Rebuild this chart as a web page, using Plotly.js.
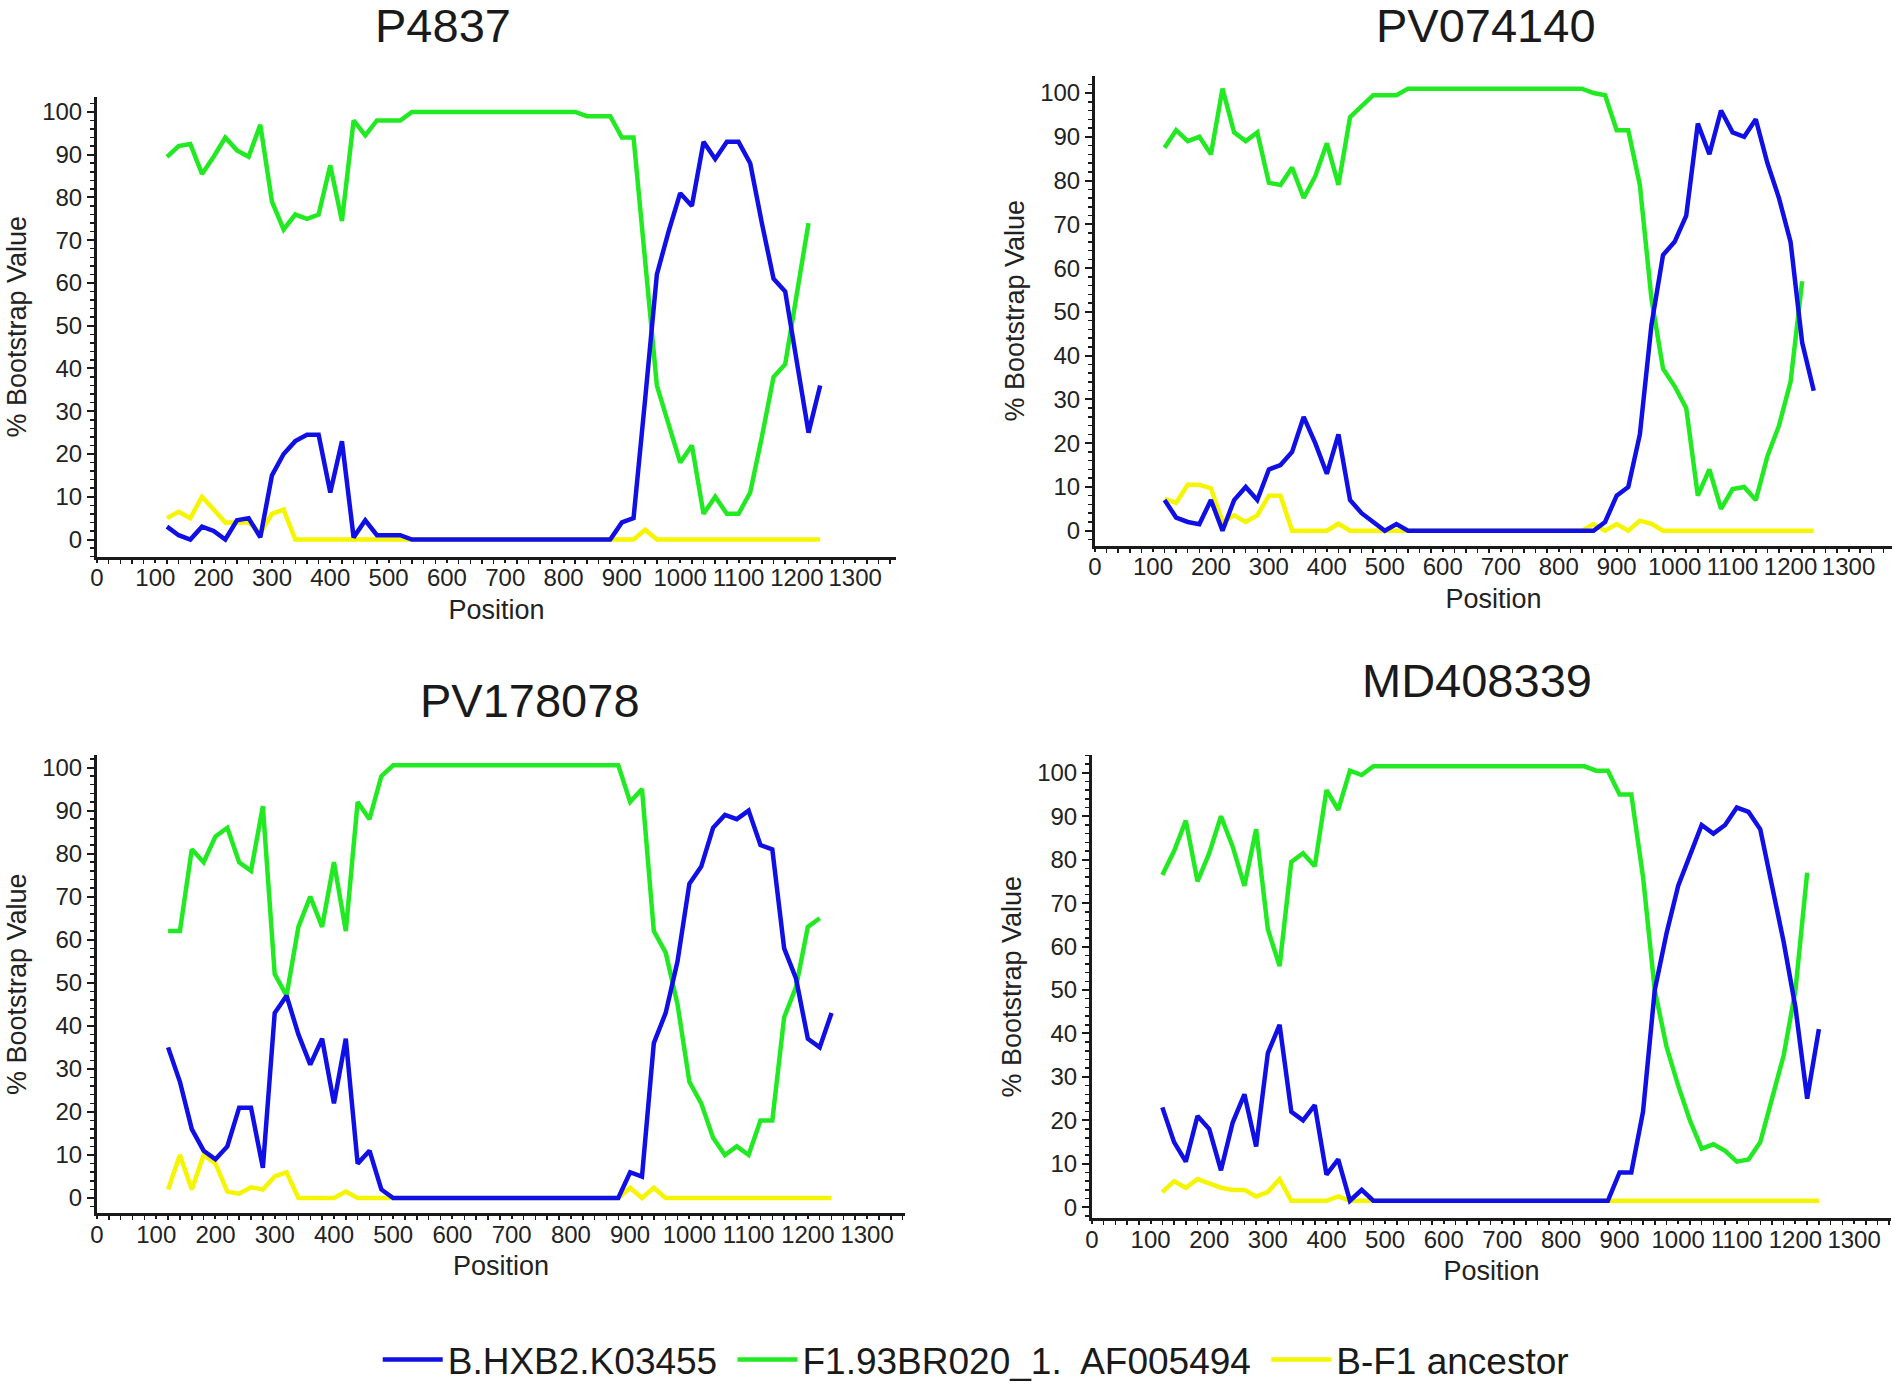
<!DOCTYPE html>
<html>
<head>
<meta charset="utf-8">
<script src="https://cdn.plot.ly/plotly-3.0.1.min.js"></script>
<style>
  html, body { margin: 0; padding: 0; background: #ffffff; }
  #chart { width: 1902px; height: 1391px; }
</style>
</head>
<body>
<div id="chart"></div>
<script>
const CHART = document.getElementById('chart');

const BLUE = '#1010e6';
const GREEN = '#22ea22';
const YELLOW = '#f5f500';
const INK = '#1a1a1a';

// window midpoints along the alignment
const positions = [120, 140, 160, 180, 200, 220, 240, 260, 280, 300, 320, 340, 360, 380,
    400, 420, 440, 460, 480, 500, 520, 540, 560, 580, 600, 620, 640, 660, 680, 700, 720,
    740, 760, 780, 800, 820, 840, 860, 880, 900, 920, 940, 960, 980, 1000, 1020, 1040,
    1060, 1080, 1100, 1120, 1140, 1160, 1180, 1200, 1220, 1240];

// trailing no-break space widens the gap between legend entries
const seriesNames = ['B.HXB2.K03455\u00a0', 'F1.93BR020_1.  AF005494\u00a0', 'B-F1 ancestor'];
const panelTitles = ['P4837', 'PV074140', 'PV178078', 'MD408339'];

// P4837
const p4837_b = [3, 1, 0, 3, 2, 0, 4.5, 5, 0.5, 15, 20, 23, 24.5, 24.5, 11, 23, 0.5, 4.5, 1, 1, 1, 0,
    0, 0, 0, 0, 0, 0, 0, 0, 0, 0, 0, 0, 0, 0, 0, 0, 0,
    4, 5, 33, 62, 72, 81, 78, 93, 89, 93, 93, 88, 74, 61, 58, 42, 25, 36];
const p4837_f1 = [89.5, 92, 92.5, 85.5, 89.5, 94, 91, 89.5, 97, 79, 72.5, 76, 75, 76, 87.5, 74.5, 98, 94.5, 98, 98, 98, 100,
    100, 100, 100, 100, 100, 100, 100, 100, 100, 100, 100, 100, 100, 100, 99, 99, 99,
    94, 94, 65, 36, 27, 18, 22, 6, 10, 6, 6, 11, 24, 38, 41, 57, 74, null];
const p4837_anc = [5, 6.5, 5, 10, 7, 4, 4, 4, 1.5, 6, 7, 0, 0, 0, 0, 0, 0, 0, 0, 0, 0, 0,
    0, 0, 0, 0, 0, 0, 0, 0, 0, 0, 0, 0, 0, 0, 0, 0, 0,
    0, 0, 2.3, 0, 0, 0, 0, 0, 0, 0, 0, 0, 0, 0, 0, 0, 0, 0];

// PV074140
const pv074140_b = [7, 3, 2, 1.5, 7, 0, 7, 10, 7, 14, 15, 18, 26, 20, 13, 22, 7, 4, 2, 0, 1.5, 0,
    0, 0, 0, 0, 0, 0, 0, 0, 0, 0, 0, 0, 0, 0, 0, 0, 2,
    8, 10, 22, 47, 63, 66, 72, 93, 86, 96, 91, 90, 94, 84, 76, 66, 43, 32];
const pv074140_f1 = [87.5, 91.5, 89, 90, 86, 101, 91, 89, 91, 79.5, 79, 83, 76, 81, 88.5, 79, 94.5, 97, 99.5, 99.5, 99.5, 101,
    101, 101, 101, 101, 101, 101, 101, 101, 101, 101, 101, 101, 101, 101, 101, 100, 99.5,
    91.5, 91.5, 79, 53, 37, 33, 28, 8, 14, 5, 9.5, 10, 7, 17, 24, 34, 57, null];
const pv074140_anc = [7.3, 6.4, 10.5, 10.5, 9.7, 2, 3.5, 2, 3.5, 8, 8, 0, 0, 0, 0, 1.6, 0, 0, 0, 0, 0, 0,
    0, 0, 0, 0, 0, 0, 0, 0, 0, 0, 0, 0, 0, 0, 0, 1.5, 0,
    1.5, 0, 2.3, 1.6, 0, 0, 0, 0, 0, 0, 0, 0, 0, 0, 0, 0, 0, 0];

// PV178078
const pv178078_b = [35, 27, 16, 11, 9, 12, 21, 21, 7, 43, 47, 38, 31, 37, 22, 37, 8, 11, 2, 0, 0, 0,
    0, 0, 0, 0, 0, 0, 0, 0, 0, 0, 0, 0, 0, 0, 0, 0, 0,
    6, 5, 36, 43, 55, 73, 77, 86, 89, 88, 90, 82, 81, 58, 51, 37, 35, 43];
const pv178078_f1 = [62, 62, 81, 78, 84, 86, 78, 76, 91, 52, 47, 63, 70, 63, 78, 62, 92, 88, 98, 100.5, 100.5, 100.5,
    100.5, 100.5, 100.5, 100.5, 100.5, 100.5, 100.5, 100.5, 100.5, 100.5, 100.5, 100.5, 100.5, 100.5, 100.5, 100.5, 100.5,
    92, 95, 62, 57, 45, 27, 22, 14, 10, 12, 10, 18, 18, 42, 49, 63, 65, null];
const pv178078_anc = [2, 10, 2, 10, 8, 1.5, 1, 2.5, 2, 5, 6, 0, 0, 0, 0, 1.5, 0, 0, 0, 0, 0, 0,
    0, 0, 0, 0, 0, 0, 0, 0, 0, 0, 0, 0, 0, 0, 0, 0, 0,
    2.4, 0, 2.4, 0, 0, 0, 0, 0, 0, 0, 0, 0, 0, 0, 0, 0, 0, 0];

// MD408339
const md408339_b = [23, 15, 10.5, 21, 18, 8.5, 19.5, 26, 14, 35.5, 42, 22, 20, 23.5, 7.5, 11, 1.5, 4, 1.5, 1.5, 1.5, 1.5,
    1.5, 1.5, 1.5, 1.5, 1.5, 1.5, 1.5, 1.5, 1.5, 1.5, 1.5, 1.5, 1.5, 1.5, 1.5, 1.5, 1.5,
    8, 8, 22, 50, 63, 74, 81, 88, 86, 88, 92, 91, 87, 73.5, 61, 46, 25, 41];
const md408339_f1 = [76.5, 82, 89, 75, 81.5, 90, 83, 74, 87, 64, 55.5, 79.5, 81.5, 78.5, 96, 91.5, 100.5, 99.5, 101.5, 101.5, 101.5, 101.5,
    101.5, 101.5, 101.5, 101.5, 101.5, 101.5, 101.5, 101.5, 101.5, 101.5, 101.5, 101.5, 101.5, 101.5, 101.5, 100.5, 100.5,
    95, 95, 76, 50, 37, 28, 20, 13.5, 14.5, 13, 10.5, 11, 15, 25, 35, 50, 77, null];
const md408339_anc = [3.5, 6, 4.5, 6.5, 5.5, 4.5, 4, 4, 2.5, 3.5, 6.5, 1.5, 1.5, 1.5, 1.5, 2.5, 1.5, 1.5, 1.5, 1.5, 1.5, 1.5,
    1.5, 1.5, 1.5, 1.5, 1.5, 1.5, 1.5, 1.5, 1.5, 1.5, 1.5, 1.5, 1.5, 1.5, 1.5, 1.5, 1.5,
    1.5, 1.5, 1.5, 1.5, 1.5, 1.5, 1.5, 1.5, 1.5, 1.5, 1.5, 1.5, 1.5, 1.5, 1.5, 1.5, 1.5, 1.5];

const panelData = [
    [p4837_b, p4837_f1, p4837_anc],
    [pv074140_b, pv074140_f1, pv074140_anc],
    [pv178078_b, pv178078_f1, pv178078_anc],
    [md408339_b, md408339_f1, md408339_anc]
];

// page-pixel boxes of each plot area (left, right, top, bottom) and axis ranges
const W = 1902, H = 1391;
const boxes = [
    {l: 97, r: 896, t: 97, b: 557, xmax: 1370, ymin: -4.0, ymax: 103.5, title: [443, 26]},
    {l: 1095, r: 1892, t: 76, b: 546, xmax: 1375, ymin: -3.4, ymax: 103.9, title: [1486, 26]},
    {l: 97, r: 905, t: 756, b: 1214, xmax: 1364, ymin: -3.5, ymax: 102.8, title: [530, 701]},
    {l: 1092, r: 1891, t: 756, b: 1219, xmax: 1363, ymin: -2.5, ymax: 104, title: [1477, 681]}
];

const SANS = '"Liberation Sans", Arial, sans-serif';
const TICKFONT = {family: SANS, size: 24, color: '#222222'};
const LABELFONT = {family: SANS, size: 27, color: '#222222'};

function axisBase() {
    return {
        showline: true,
        linecolor: INK,
        linewidth: 3,
        mirror: false,
        showgrid: false,
        zeroline: false,
        ticks: 'outside',
        ticklen: 7,
        tickwidth: 2,
        tickcolor: INK,
        tickfont: TICKFONT,
        tickangle: 0,
        automargin: false,
        fixedrange: true
    };
}

const traces = [];
const layout = {
    width: W,
    height: H,
    margin: {l: 0, r: 0, t: 0, b: 0},
    paper_bgcolor: '#ffffff',
    plot_bgcolor: '#ffffff',
    showlegend: true,
    legend: {
        orientation: 'h',
        traceorder: 'reversed',
        x: 0.513,
        xanchor: 'center',
        y: 1 - 1361 / H,
        yanchor: 'middle',
        font: {family: SANS, size: 37, color: '#1a1a1a'},
        itemwidth: 60,
        bgcolor: 'rgba(0,0,0,0)'
    },
    annotations: []
};

const colors = [BLUE, GREEN, YELLOW];

boxes.forEach(function (box, i) {
    const n = i + 1;
    const sfx = n === 1 ? '' : String(n);

    const xaxis = axisBase();
    xaxis.domain = [box.l / W, box.r / W];
    xaxis.range = [0, box.xmax];
    xaxis.tick0 = 0;
    xaxis.dtick = 100;
    xaxis.ticklen = 3;
    xaxis.ticklabelstandoff = -5;
    xaxis.minor = {dtick: 20, ticks: 'outside', ticklen: 4, tickwidth: 1.5, tickcolor: INK};
    xaxis.anchor = 'y' + sfx;
    xaxis.title = {text: 'Position', font: LABELFONT, standoff: 10};

    const yaxis = axisBase();
    yaxis.domain = [1 - box.b / H, 1 - box.t / H];
    yaxis.range = [box.ymin, box.ymax];
    yaxis.tick0 = 0;
    yaxis.dtick = 10;
    yaxis.minor = {dtick: 2, ticks: 'outside', ticklen: 4, tickwidth: 1.5, tickcolor: INK};
    yaxis.anchor = 'x' + sfx;
    yaxis.title = {text: '% Bootstrap Value', font: LABELFONT, standoff: 8};

    layout['xaxis' + sfx] = xaxis;
    layout['yaxis' + sfx] = yaxis;

    layout.annotations.push({
        text: panelTitles[i],
        xref: 'paper', yref: 'paper',
        x: box.title[0] / W,
        y: 1 - box.title[1] / H,
        xanchor: 'center', yanchor: 'middle',
        showarrow: false,
        font: {family: SANS, size: 47, color: '#1a1a1a'}
    });

    // ancestor first so the parental curves sit on top of it
    [2, 1, 0].forEach(function (s) {
        traces.push({
            type: 'scatter',
            mode: 'lines',
            x: positions,
            y: panelData[i][s],
            name: seriesNames[s],
            legendgroup: seriesNames[s],
            showlegend: i === 0,
            line: {color: colors[s], width: 4.5},
            xaxis: 'x' + sfx,
            yaxis: 'y' + sfx,
            hoverinfo: 'skip'
        });
    });
});

Plotly.newPlot(CHART, traces, layout, {staticPlot: true});
</script>
</body>
</html>
